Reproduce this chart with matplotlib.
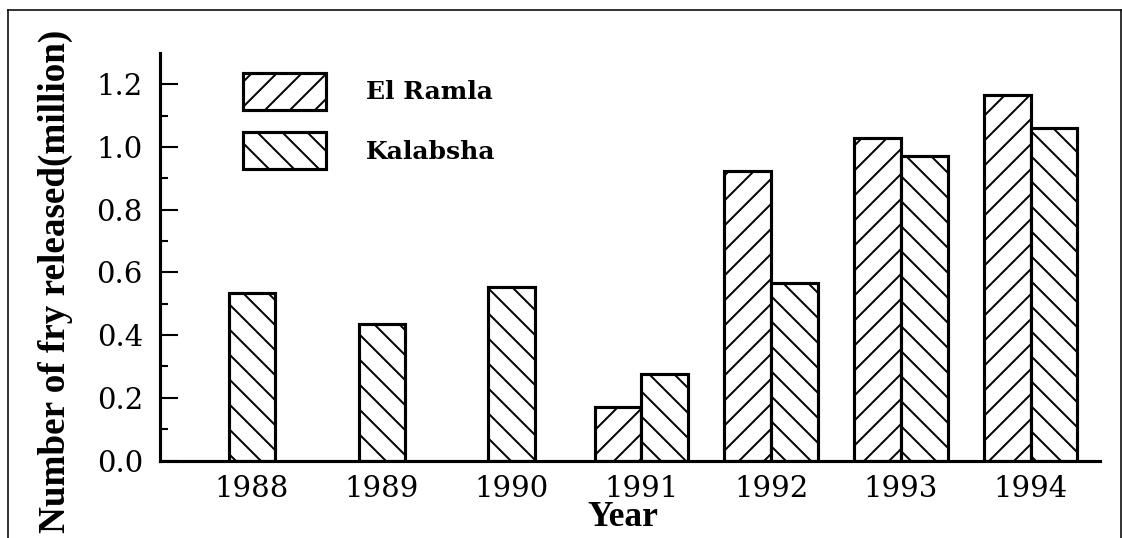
import matplotlib
matplotlib.use('Agg')
import matplotlib.pyplot as plt
from matplotlib.lines import Line2D
from matplotlib.ticker import FixedLocator
import numpy as np

years = ['1988', '1989', '1990', '1991', '1992', '1993', '1994']
el_ramla = [np.nan, np.nan, np.nan, 0.17, 0.925, 1.03, 1.165]
kalabsha = [0.535, 0.435, 0.555, 0.275, 0.565, 0.97, 1.06]
yticks = [0.0, 0.2, 0.4, 0.6, 0.8, 1.0, 1.2]

DPI = 150
plt.rcParams['hatch.linewidth'] = 0.95
fig = plt.figure(figsize=(1122 / DPI, 538 / DPI), dpi=DPI)
ax = fig.add_axes([160 / 1122, 1 - 460.5 / 538, 940 / 1122, 407.5 / 538])

x = np.arange(len(years))
w = 0.36
er = np.array(el_ramla, dtype=float)
has_er = ~np.isnan(er)
# Kalabsha sits on the tick when there is no El Ramla bar that year
k_pos = np.where(has_er, x + w / 2, x)

bar_kw = dict(width=w, facecolor='white', edgecolor='black', linewidth=1.5)
b1 = ax.bar(x[has_er] - w / 2, er[has_er], hatch='//', **bar_kw)
b2 = ax.bar(k_pos, kalabsha, hatch='\\\\', **bar_kw)

ax.set_xlim(-0.71, 6.535)
ax.set_ylim(0, 1.3)
ax.set_xticks(x)
ax.set_xticklabels(years)
ax.set_yticks(yticks)
ax.set_yticklabels(['%.1f' % v for v in yticks])
ax.yaxis.set_minor_locator(FixedLocator([0.1, 0.3, 0.5, 0.7, 0.9, 1.1]))

for lab in ax.get_xticklabels() + ax.get_yticklabels():
    lab.set_fontfamily('DejaVu Serif')
    lab.set_fontsize(14)

ax.tick_params(axis='y', which='major', direction='in', length=8.6, width=1.0, pad=8.2)
ax.tick_params(axis='y', which='minor', direction='in', length=3.8, width=1.0)
ax.tick_params(axis='x', length=0, pad=7)

for side in ['top', 'right']:
    ax.spines[side].set_visible(False)
for side in ['left', 'bottom']:
    ax.spines[side].set_linewidth(1.5)

ax.legend([b1, b2], ['El Ramla', 'Kalabsha'], loc='upper left',
          bbox_to_anchor=(243 / 1122, 1 - 72.7 / 538), bbox_transform=fig.transFigure,
          frameon=False, borderpad=0, borderaxespad=0,
          handlelength=3.3, handleheight=1.9, handletextpad=1.6, labelspacing=0.9,
          prop=dict(family='DejaVu Serif', weight='bold', size=12))

fig.text(623 / 1122, 1 - 517 / 538, 'Year', ha='center', va='center',
         family='Liberation Serif', weight='bold', size=17)
fig.text(55 / 1122, 1 - 281.5 / 538, 'Number of fry released(million)', rotation=90,
         ha='center', va='center', family='Liberation Serif', weight='bold', size=17.8)

# thin frame around the picture
top = 1 - 10 / 538
fr = dict(color='black', linewidth=0.75, transform=fig.transFigure)
fig.add_artist(Line2D([8 / 1122, 8 / 1122], [0, top], **fr))
fig.add_artist(Line2D([8 / 1122, 1121 / 1122], [top, top], **fr))
fig.add_artist(Line2D([1121 / 1122, 1121 / 1122], [0, top], **fr))

fig.savefig('out.png', dpi=DPI)
